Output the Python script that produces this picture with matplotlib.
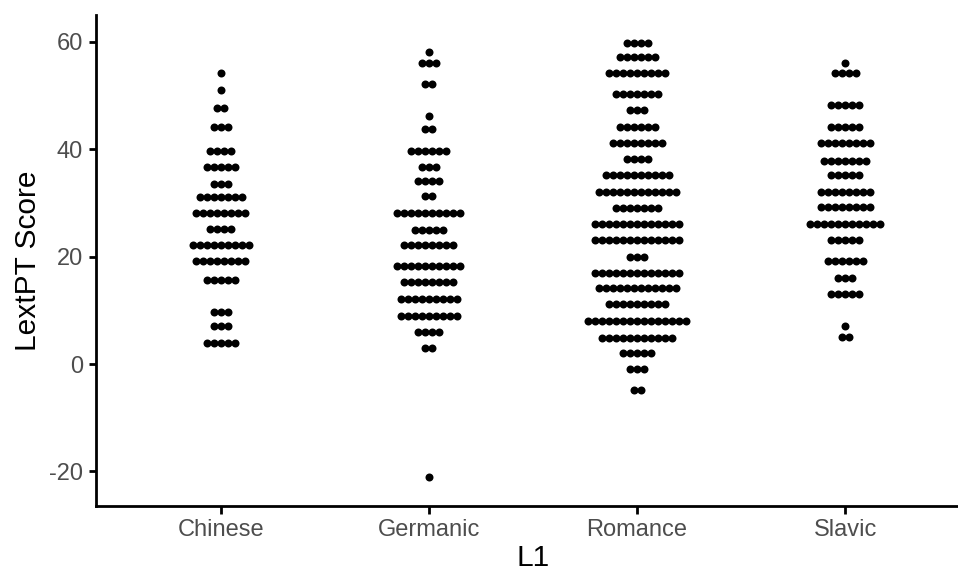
import matplotlib
matplotlib.use("Agg")
import matplotlib.pyplot as plt
import numpy as np

plt.rcParams['font.family'] = ['Liberation Sans', 'DejaVu Sans']
plt.rcParams['axes.unicode_minus'] = False

groups = ["Chinese", "Germanic", "Romance", "Slavic"]

# bin centres (LextPT score) and number of stacked dots in each bin
chinese_y = [54.1, 51.0, 47.6, 44.1, 39.7, 36.6, 33.5, 31.0, 28.1, 25.1, 22.2, 19.1, 15.7, 9.6, 7.0, 4.0]
chinese_n = [1, 1, 2, 3, 4, 5, 3, 7, 8, 4, 9, 8, 5, 3, 3, 5]

germanic_y = [58.1, 56.1, 52.2, 46.1, 43.7, 39.7, 36.7, 34.0, 31.2, 28.1, 25.0, 22.2,
              18.2, 15.2, 12.1, 9.0, 6.0, 3.0, -21.0]
germanic_n = [1, 3, 2, 1, 2, 6, 3, 4, 2, 10, 5, 8, 10, 8, 9, 9, 4, 2, 1]

romance_y = [59.7, 57.2, 54.1, 50.2, 47.2, 44.1, 41.2, 38.2, 35.1, 32.1, 29.0, 26.1,
             23.1, 20.0, 17.0, 14.1, 11.1, 8.0, 4.9, 2.0, -1.0, -4.9]
romance_n = [4, 6, 9, 7, 3, 6, 8, 4, 10, 12, 7, 13, 13, 3, 13, 12, 9, 15, 11, 5, 3, 2]

slavic_y = [56.1, 54.1, 48.2, 44.1, 41.2, 37.8, 35.1, 32.1, 29.2, 26.1, 23.0, 19.1,
            16.1, 13.1, 7.1, 5.1]
slavic_n = [1, 4, 5, 5, 8, 7, 5, 8, 8, 11, 5, 6, 3, 5, 1, 2]

yticks = [-20, 0, 20, 40, 60]

W, H = 958, 573
fig = plt.figure(figsize=(W / 100, H / 100), dpi=100)
left, right, bottom, top = 96, 970, 506, 15
ax = fig.add_axes([left / W, (H - bottom) / H, (right - left) / W, (bottom - top) / H])

xlim = (0.4, 4.6)
dot_px = 7.0
step = dot_px / ((right - left) / (xlim[1] - xlim[0]))

data = [(chinese_y, chinese_n), (germanic_y, germanic_n),
        (romance_y, romance_n), (slavic_y, slavic_n)]
for i, (ys, ns) in enumerate(data):
    xs, yy = [], []
    for y, n in zip(ys, ns):
        offs = (np.arange(n) - (n - 1) / 2) * step
        xs.extend(i + 1 + offs)
        yy.extend([y] * n)
    ax.scatter(xs, yy, s=(8.0 * 0.72) ** 2, color="black", linewidths=0, clip_on=False)

ax.set_xlim(*xlim)
ax.set_ylim(-26.43, 64.97)
ax.set_xticks(range(1, 5))
ax.set_xticklabels(groups)
ax.set_yticks(yticks)
for s in ["top", "right"]:
    ax.spines[s].set_visible(False)
for s in ["left", "bottom"]:
    ax.spines[s].set_linewidth(2.0)
ax.tick_params(length=5.4, width=2.0, labelsize=17, labelcolor="#4D4D4D", pad=4)
ax.set_xlabel("L1", fontsize=21.5, labelpad=2)
ax.set_ylabel("LextPT Score", fontsize=21.5)
ax.yaxis.set_label_coords(-54 / (right - left), 0.5)

fig.savefig("out.png", dpi=100)
